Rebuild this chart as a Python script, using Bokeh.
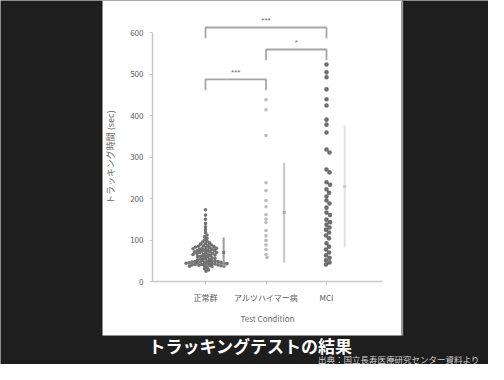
from bokeh.plotting import figure
from bokeh.models import FixedTicker
from bokeh.embed import file_html
from bokeh.resources import INLINE
from bokeh.core.properties import value

# ---------------- data ----------------
categories = ["正常群", "アルツハイマー病", "MCI"]
group1 = [173, 160, 150, 140, 132, 125, 118, 112, 108, 104, 100, 97,
          95, 93, 91, 90, 88, 87, 86, 85, 84, 83, 82, 81, 80, 80, 79, 78, 77, 76,
          75, 75, 74, 73, 72, 71, 70, 70, 69, 68, 67, 66, 65, 65, 64, 63,
          62, 61, 60, 59, 58, 57, 56, 55, 54, 53, 52, 51,
          50, 49, 49, 48, 48, 47, 47, 46, 46, 45, 45, 45, 44, 44, 43, 43, 42, 42,
          41, 41, 40, 40, 39, 39, 38, 38, 37, 37, 36,
          34, 31, 28, 25]
group2 = [438, 414, 352, 238, 219, 195, 180, 161, 150, 142, 123, 110, 99, 88, 77, 65, 58]
group3 = [523, 504, 492, 463, 439, 424, 390, 378, 359, 318, 311, 270, 263, 239, 233,
          222, 214, 205, 195, 188, 178, 166, 160, 149, 143, 137, 130, 125, 118, 111,
          104, 92, 84, 77, 70, 63, 57, 51, 46, 41]
means = [70, 166, 229]
sds = [36, 120, 147]
comparisons = [(1, 3), (2, 3), (1, 2)]
bracket_tops = [612, 559, 487]
sig_labels = ["***", "*", "***"]
y_ticks = [0, 100, 200, 300, 400, 500, 600]
title_text = "トラッキングテストの結果"
source_text = "出典：国立長寿医療研究センター資料より"

# ---------------- layout constants (canvas pixels) ----------------
W, H = 488, 364
DARK = "#1e1e1e"
JP = "Noto Sans CJK JP"
X_PX = 60.5          # pixels per category unit
Y_PX = 0.415         # pixels per y unit
X1_PX = 205          # canvas x of first category
Y0_PX = 281          # canvas y of value 0
XS = 1 - X1_PX / X_PX


def cx(px):
    return XS + px / X_PX


def cy(py):
    return (Y0_PX - py) / Y_PX


def swarm(vals, d):
    """beeswarm offsets (category units) so that markers of diameter d px do not overlap"""
    placed = []
    offs = [0.0] * len(vals)
    order = sorted(range(len(vals)), key=lambda i: -vals[i])
    for i in order:
        y = vals[i] * Y_PX
        k = 0
        while True:
            cand = (k // 2 + (k % 2)) * 0.5 * (1 if k % 2 else -1)
            if all((cand - px) ** 2 + (y - py) ** 2 >= d * d for px, py in placed):
                break
            k += 1
        placed.append((cand, y))
        offs[i] = cand / X_PX
    return offs


p = figure(width=W, height=H, x_range=(cx(0), cx(W)), y_range=(cy(H), cy(0)),
           toolbar_location=None, output_backend="svg", title=None, min_border=0)
p.background_fill_color = DARK
p.border_fill_color = DARK
p.outline_line_color = None
p.grid.visible = False

# white slide panel with its shadow edge
p.quad(left=[cx(102), cx(401), cx(403)], right=[cx(401), cx(403), cx(404)],
       top=[cy(0)] * 3, bottom=[cy(335)] * 3,
       fill_color=["white", "#9a9a9a", "#0e0e0e"], line_color=None)

groups = [group1, group2, group3]
dot_colors = ["#646464", "#b4b4b4", "#5e5e5e"]
dot_sizes = [3.6, 3.6, 4.6]
swarm_gap = [0.76, 0.85, 0.85]
for gi, (vals, col, sz, g) in enumerate(zip(groups, dot_colors, dot_sizes, swarm_gap)):
    offs = swarm(vals, sz * g)
    xs = [gi + 1 + o for o in offs]
    p.scatter(xs, vals, size=sz, fill_color=col, line_color=None, fill_alpha=0.9)

bar_colors = ["#9a9a9a", "#c6c6c6", "#e2e2e2"]
ex = [i + 1.3 for i in range(3)]
p.segment(x0=ex, y0=[m - s for m, s in zip(means, sds)],
          x1=ex, y1=[m + s for m, s in zip(means, sds)],
          line_color=bar_colors, line_width=2)
p.scatter(ex, means, marker="square", size=3, fill_color=["#777", "#aaa", "#ccc"],
          line_color=None)

bx, by = [], []
for (a, b), t in zip(comparisons, bracket_tops):
    bx.append([a, a, b, b])
    by.append([t - 26, t, t, t - 26])
p.multi_line(bx, by, line_color="#a6a6a6", line_width=1.8)
p.text(x=[(a + b) / 2 for a, b in comparisons], y=[t + 17 for t in bracket_tops],
       text=sig_labels, text_align="center", text_baseline="middle",
       text_font_size="8px", text_color="#6f6f6f", text_font=value("Liberation Sans"))

# axes pinned inside the full-canvas frame
p.yaxis.fixed_location = cx(152)
p.xaxis.fixed_location = 0
p.xaxis.bounds = (cx(152), cx(382))
p.yaxis.bounds = (0, 600)
p.xaxis.ticker = FixedTicker(ticks=[1, 2, 3])
p.xaxis.major_label_overrides = {i + 1: c for i, c in enumerate(categories)}
p.yaxis.ticker = FixedTicker(ticks=y_ticks)
for ax in (p.xaxis, p.yaxis):
    ax.axis_line_color = "#c8c8c8"
    ax.axis_line_width = 1.5
    ax.major_tick_line_color = "#c8c8c8"
    ax.minor_tick_line_color = None
    ax.major_tick_out = 3
    ax.major_tick_in = 0
    ax.major_label_text_font = JP
    ax.major_label_text_font_size = "8px"
    ax.major_label_text_color = "#5a5a5a"
    ax.axis_label_text_font = JP
    ax.axis_label_text_font_style = "normal"
    ax.axis_label_text_color = "#6a6a6a"
p.xaxis.major_label_standoff = 7
p.yaxis.major_label_standoff = 6
p.xaxis.axis_label = "Test Condition"
p.xaxis.axis_label_text_font_size = "8px"
p.xaxis.axis_label_standoff = 7
p.yaxis.axis_label = "トラッキング時間 (sec)"
p.yaxis.axis_label_text_font_size = "9px"
p.yaxis.axis_label_standoff = 10

# slide caption
p.text(x=[cx(250)], y=[cy(345)], text=[title_text], text_align="center",
       text_baseline="middle", text_font=value(JP), text_font_size="17px",
       text_font_style="bold", text_color="white")
p.text(x=[cx(479)], y=[cy(364)], text=[source_text], text_align="right",
       text_baseline="bottom", text_font=value(JP), text_font_size="8.5px",
       text_color="#cfcfcf")

open("out.html", "w").write(file_html(p, INLINE))
